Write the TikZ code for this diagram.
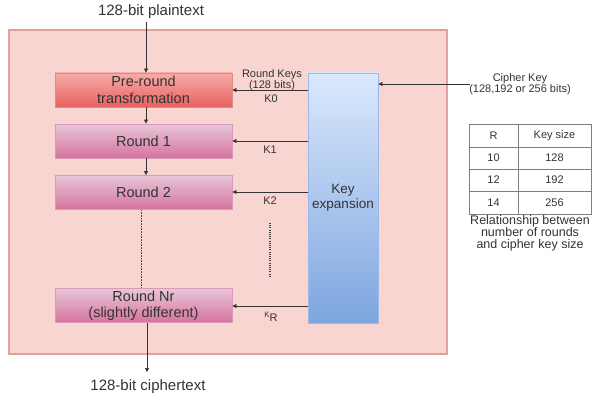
\documentclass[tikz,border=0pt]{standalone}
\usepackage{fontspec}
\setmainfont{Liberation Sans}
\usetikzlibrary{arrows.meta}
\definecolor{bgfill}{HTML}{F9D5D1}
\definecolor{bgdraw}{HTML}{E2A29C}
\definecolor{prtop}{HTML}{F6ACA9}
\definecolor{prbot}{HTML}{E8615E}
\definecolor{prdraw}{HTML}{E08A86}
\definecolor{rdtop}{HTML}{E8C6D8}
\definecolor{rdbot}{HTML}{D5739D}
\definecolor{rddraw}{HTML}{D89AB8}
\definecolor{kxtop}{HTML}{DAE8FC}
\definecolor{kxbot}{HTML}{7EA6E0}
\definecolor{kxdraw}{HTML}{9DB8E2}
\definecolor{txt}{HTML}{333333}
\definecolor{tabline}{HTML}{7F7F7F}
\tikzset{
  bigtxt/.style={font=\fontsize{15}{17}\selectfont, text=txt},
  smalltxt/.style={font=\fontsize{11}{11.5}\selectfont, text=txt, align=center},
  boxlabel/.style={font=\fontsize{14.5}{16.5}\selectfont, text=txt, align=center},
  prebox/.style={draw=prdraw, line width=0.8pt, top color=prtop, bottom color=prbot, minimum width=177pt, minimum height=34pt, inner sep=0pt, boxlabel},
  roundbox/.style={draw=rddraw, line width=0.8pt, top color=rdtop, bottom color=rdbot, minimum width=177pt, minimum height=34pt, inner sep=0pt, boxlabel},
  arr/.style={draw=black!80, line width=0.6pt, -{Triangle[length=4pt,width=4pt]}},
  celltxt/.style={font=\fontsize{11}{12}\selectfont, text=txt}
}
\begin{document}
\begin{tikzpicture}[x=1pt,y=-1pt]
\useasboundingbox (0,0) rectangle (597,396);
\fill[white] (0,0) rectangle (597,396);
% background panel
\node[draw=bgdraw, fill=bgfill, line width=1.6pt, minimum width=438pt, minimum height=324pt, inner sep=0pt] (panel) at (228,192) {};
% text top/bottom
\node[bigtxt] (pt) at (151,12) {128-bit plaintext};
\node[bigtxt] (ct) at (148,387) {128-bit ciphertext};
% boxes
\node[prebox] (pre) at (143.5,90) {Pre-round\\transformation};
\node[roundbox] (r1) at (143.5,141) {Round 1};
\node[roundbox] (r2) at (143.5,192.5) {Round 2};
\node[roundbox] (rn) at (143.5,305.5) {Round Nr\\(slightly different)};
\node[draw=kxdraw, line width=0.8pt, top color=kxtop, bottom color=kxbot, minimum width=70pt, minimum height=250pt, inner sep=0pt, font=\fontsize{13.5}{15}\selectfont, text=txt, align=center] (kx) at (343,198) {Key\\expansion};
% vertical flow
\coordinate (ptend) at (146,22);
\draw[arr] (ptend) -- (pre.north -| ptend);
\draw[arr] (pre.south -| ptend) -- (r1.north -| ptend);
\draw[arr] (r1.south -| ptend) -- (r2.north -| ptend);
\draw[densely dotted, line width=0.6pt, black!70] ([xshift=-2pt]r2.south) -- ([xshift=-2pt]rn.north);
\coordinate (ctend) at (147,372);
\draw[arr] (rn.south -| ctend) -- (ctend);
% key arrows
\draw[arr] (kx.west |- 0,90) -- (pre.east |- 0,90);
\draw[arr] (kx.west |- 0,141) -- (r1.east |- 0,141);
\draw[arr] (kx.west |- 0,192) -- (r2.east |- 0,192);
\draw[arr] (kx.west |- 0,306) -- (rn.east |- 0,306);
\node[smalltxt] (rk) at (272,80) {Round Keys\\(128 bits)};
\node[smalltxt] (k0) at (271,99) {K0};
\node[smalltxt] (k1) at (270,150) {K1};
\node[smalltxt] (k2) at (270,201) {K2};
\node[smalltxt] (kr) at (271,317) {\raisebox{4pt}{\fontsize{8}{9}\selectfont K}R};
\draw[line width=1.6pt, dash pattern=on 1pt off 1.2pt, black!75] (270,223) -- (270,277);
% cipher key
\node[smalltxt] (ck) at (520,84) {Cipher Key\\(128,192 or 256 bits)};
\coordinate (ckstart) at (470,84);
\draw[arr] (ckstart) -- (kx.east |- ckstart);
% table
\begin{scope}[draw=tabline, line width=0.6pt]
\draw (469,124) rectangle (591,214);
\draw (518,124) -- (518,214);
\draw (469,147) -- (591,147);
\draw (469,169) -- (591,169);
\draw (469,191) -- (591,191);
\end{scope}
\node[celltxt] (h1) at (493.5,136) {R};
\node[celltxt] (h2) at (554.5,136) {Key size};
\node[celltxt] (a1) at (493.5,158) {10};
\node[celltxt] (a2) at (554.5,158) {128};
\node[celltxt] (b1) at (493.5,180) {12};
\node[celltxt] (b2) at (554.5,180) {192};
\node[celltxt] (c1) at (493.5,202.5) {14};
\node[celltxt] (c2) at (554.5,202.5) {256};
\node[font=\fontsize{12.5}{12}\selectfont, text=txt, align=center] (cap) at (530,233) {Relationship between\\number of rounds\\and cipher key size};
\end{tikzpicture}
\end{document}
